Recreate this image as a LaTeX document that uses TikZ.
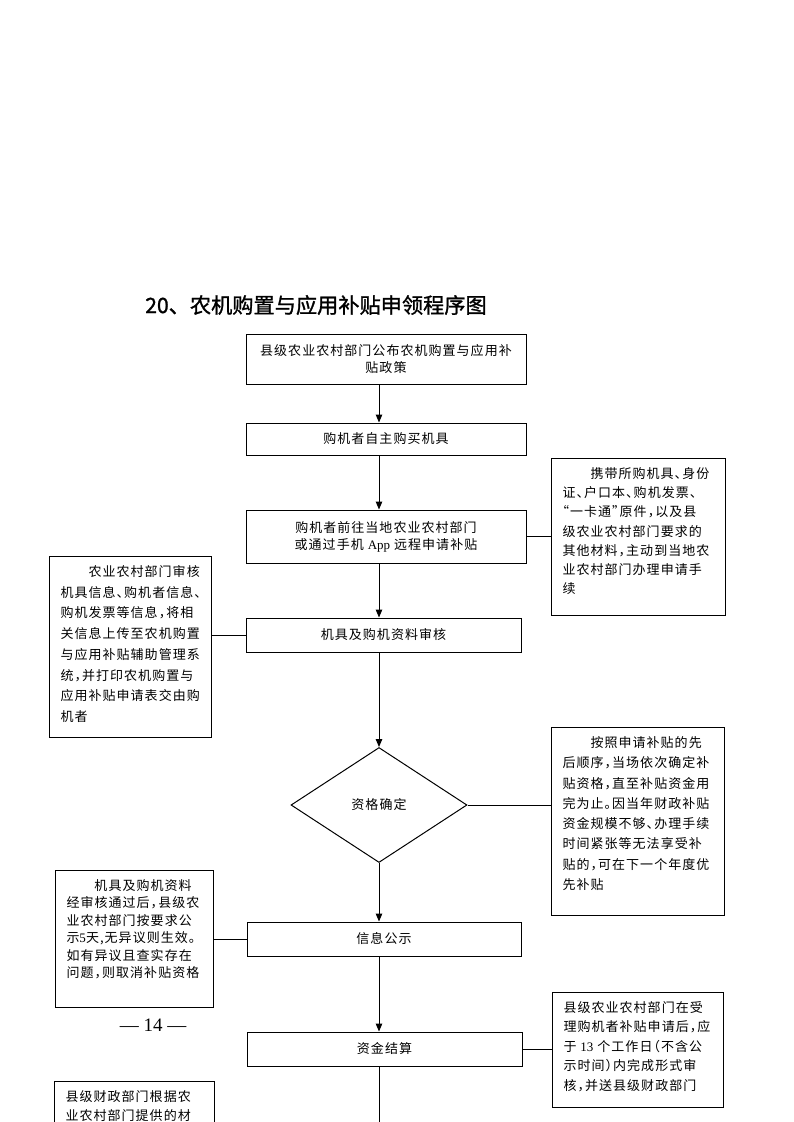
\documentclass[tikz,border=0pt]{standalone}
\usepackage{fontspec}
\newfontfamily\cjk[LetterSpace=8,RawFeature=+halt]{Noto Sans CJK SC}
\newfontfamily\cjktitle[FakeBold=1.2]{Noto Sans CJK SC}
\newfontfamily\latin{Liberation Serif}
\usetikzlibrary{shapes.geometric,arrows.meta,calc}
% text block of a side note: width, height, line distance, lines
\newcommand{\sidetext}[4]{\parbox[c][#2][t]{#1}{\fontsize{13}{#3}\selectfont #4}}

\begin{document}
\begin{tikzpicture}[x=1pt,y=-1pt,
    mainbox/.style={draw,line width=1pt,inner sep=0pt,align=center,font=\cjk\fontsize{13}{17}\selectfont},
    sidebox/.style={draw,line width=1pt,anchor=north west,inner xsep=11pt,inner ysep=9pt,font=\cjk},
    flow/.style={line width=1pt,-{Triangle[width=6.5pt,length=8pt]}},
    link/.style={line width=1pt}]
        \useasboundingbox (0,0) rectangle (794,1122);
        \clip (0,0) rectangle (794,1122);
        \fill[white] (0,0) rectangle (794,1122);
        \node[anchor=west,inner sep=0pt,font=\cjktitle\fontsize{21.2}{25}\selectfont] (title) at (145,305) {20、农机购置与应用补贴申领程序图};
        % main column
        \node[mainbox,minimum width=280,minimum height=50] (b1) at (386,359) {县级农业农村部门公布农机购置与应用补\\贴政策};
        \node[mainbox,minimum width=280,minimum height=32] (b2) at (386,439) {购机者自主购买机具};
        \node[mainbox,minimum width=280,minimum height=53] (b3) at (386,536.5) {购机者前往当地农业农村部门\\或通过手机 {\latin App} 远程申请补贴};
        \node[mainbox,minimum width=275,minimum height=34] (b4) at (383.5,635) {机具及购机资料审核};
        \node[draw,diamond,line width=1pt,inner sep=0pt,minimum width=176,minimum height=115,font=\cjk\fontsize{13}{17}\selectfont] (d) at (379,805) {资格确定};
        \node[mainbox,minimum width=274,minimum height=34] (b5) at (384,939) {信息公示};
        \node[mainbox,minimum width=275,minimum height=34] (b6) at (384.5,1049) {资金结算};
        \coordinate (tail) at (379,1140);
        % side notes
        \node[sidebox] (r1) at (551,458) {\sidetext{152pt}{139pt}{19.2pt}{\hspace*{28pt}携带所购机具、身份\\证、户口本、购机发票、\\“一卡通”原件，以及县\\级农业农村部门要求的\\其他材料，主动到当地农\\业农村部门办理申请手\\续}};
        \node[sidebox] (l1) at (49,556) {\sidetext{140pt}{163pt}{20.7pt}{\hspace*{28pt}农业农村部门审核\\机具信息、购机者信息、\\购机发票等信息，将相\\关信息上传至农机购置\\与应用补贴辅助管理系\\统，并打印农机购置与\\应用补贴申请表交由购\\机者}};
        \node[sidebox] (r2) at (551,727) {\sidetext{151pt}{170pt}{20.3pt}{\hspace*{28pt}按照申请补贴的先\\后顺序，当场依次确定补\\贴资格，直至补贴资金用\\完为止。因当年财政补贴\\资金规模不够、办理手续\\时间紧张等无法享受补\\贴的，可在下一个年度优\\先补贴}};
        \node[sidebox] (l2) at (55,870) {\sidetext{136pt}{119pt}{17.5pt}{\hspace*{28pt}机具及购机资料\\经审核通过后，县级农\\业农村部门按要求公\\示{\latin 5}天,无异议则生效。\\如有异议且查实存在\\问题，则取消补贴资格}};
        \node[sidebox] (r3) at (552,992) {\sidetext{149pt}{97pt}{19.5pt}{县级农业农村部门在受\\理购机者补贴申请后，应\\于 {\latin 13} 个工作日（不含公\\示时间）内完成形式审\\核，并送县级财政部门}};
        \node[sidebox] (l3) at (54,1081) {\sidetext{138pt}{180pt}{19pt}{县级财政部门根据农\\业农村部门提供的材}};
        \node[inner sep=0pt,font=\latin\fontsize{19}{22}\selectfont] (pnum) at (153,1025) {— 14 —};
        % connectors
        \draw[flow] (b1.south -| d.north) -- (b2.north -| d.north);
        \draw[flow] (b2.south -| d.north) -- (b3.north -| d.north);
        \draw[flow] (b3.south -| d.north) -- (b4.north -| d.north);
        \draw[flow] (b4.south -| d.north) -- (d.north);
        \draw[flow] (d.south) -- (b5.north -| d.south);
        \draw[flow] (b5.south -| d.north) -- (b6.north -| d.north);
        \draw[link] (b6.south -| d.north) -- (tail);
        \draw[link] (b3.east) -- (b3.east -| r1.west);
        \draw[link] (b4.west) -- (b4.west -| l1.east);
        \draw[link] (d.east) -- (d.east -| r2.west);
        \draw[link] (b5.west) -- (b5.west -| l2.east);
        \draw[link] (b6.east) -- (b6.east -| r3.west);
\end{tikzpicture}
\end{document}
